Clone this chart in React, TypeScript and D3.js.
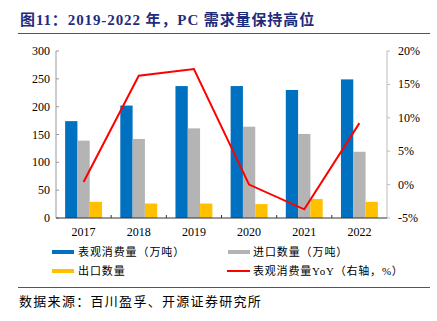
import React from "react";
import * as d3 from "d3";

const years = ["2017", "2018", "2019", "2020", "2021", "2022"];
const consumption = [174, 202, 237, 237, 230, 249];
const imports = [139, 142, 161, 164, 151, 119];
const exportsQ = [29, 26, 26, 25, 34, 29];
const yoy = [0.4, 16.3, 17.3, 0.0, -3.7, 9.2];
const leftTicks = [0, 50, 100, 150, 200, 250, 300];
const rightTicks = [-5, 0, 5, 10, 15, 20];

const W = 437, H = 321;
const L = 56, R = 387, T = 51, B = 218;
const serif = "'Liberation Serif','Times New Roman','Noto Sans CJK SC',serif";

export default function App() {
  const x = d3.scaleBand().domain(years).range([L, R]).paddingInner(0).paddingOuter(0);
  const yL = d3.scaleLinear().domain([0, 300]).range([B, T]);
  const yR = d3.scaleLinear().domain([-5, 20]).range([B, T]);
  const bw = 12.3;
  const series = [
    { vals: consumption, color: "#0070C0", off: -1.5 },
    { vals: imports, color: "#B4B4B4", off: -0.5 },
    { vals: exportsQ, color: "#FFC000", off: 0.5 },
  ];
  const cx = (y: string) => (x(y) as number) + x.bandwidth() / 2;
  const line = d3
    .line<number>()
    .x((_, i) => cx(years[i]))
    .y((d) => yR(d));

  return (
    <svg width={W} height={H} style={{ position: "absolute", left: 0, top: 0, background: "#fff" }}>
      <text x={20} y={25} fontFamily={serif} fontWeight="bold" fontSize={15} letterSpacing={0.9} fill="#1F2C7E">
        图11：2019-2022 年，PC 需求量保持高位
      </text>
      <line x1={18} x2={430} y1={33.5} y2={33.5} stroke="#555" strokeWidth={1} />

      {series.map((s, si) =>
        s.vals.map((v, i) => (
          <rect
            key={si + "-" + i}
            x={cx(years[i]) + s.off * bw}
            y={yL(v)}
            width={bw}
            height={B - yL(v)}
            fill={s.color}
          />
        ))
      )}

      {/* left axis */}
      <line x1={L} x2={L} y1={T} y2={B} stroke="#999" />
      {leftTicks.map((t) => (
        <g key={"l" + t}>
          <line x1={L} x2={L + 3} y1={yL(t)} y2={yL(t)} stroke="#999" />
          <text x={50} y={yL(t) + 4} textAnchor="end" fontFamily={serif} fontSize={12} fill="#000">
            {t}
          </text>
        </g>
      ))}
      {/* right axis */}
      <line x1={R} x2={R} y1={T} y2={B} stroke="#bbb" />
      {rightTicks.map((t) => (
        <g key={"r" + t}>
          <line x1={R} x2={R + 3} y1={yR(t)} y2={yR(t)} stroke="#bbb" />
          <text x={398} y={yR(t) + 4} textAnchor="start" fontFamily={serif} fontSize={12} fill="#000">
            {t}%
          </text>
        </g>
      ))}
      {/* bottom axis */}
      <line x1={L} x2={R} y1={B} y2={B} stroke="#333" />
      {years.slice(1).map((y) => (
        <line key={"xt" + y} x1={x(y)} x2={x(y)} y1={B} y2={B - 3} stroke="#333" />
      ))}
      {years.map((y) => (
        <text key={"xl" + y} x={cx(y)} y={236} textAnchor="middle" fontFamily={serif} fontSize={12} fill="#000">
          {y}
        </text>
      ))}

      <path d={line(yoy) || ""} fill="none" stroke="#FF0000" strokeWidth={2} />

      {/* legend */}
      <rect x={52} y={250} width={22} height={4} fill="#0070C0" />
      <text x={78} y={256} fontFamily={serif} fontSize={11} letterSpacing={0.9} fill="#000">表观消费量（万吨）</text>
      <rect x={228} y={250} width={22} height={4} fill="#B4B4B4" />
      <text x={253} y={256} fontFamily={serif} fontSize={11} letterSpacing={0.9} fill="#000">进口数量（万吨）</text>
      <rect x={52} y={269} width={22} height={4} fill="#FFC000" />
      <text x={78} y={275} fontFamily={serif} fontSize={11} letterSpacing={0.9} fill="#000">出口数量</text>
      <line x1={227} x2={250} y1={271} y2={271} stroke="#FF0000" strokeWidth={2} />
      <text x={253} y={275} fontFamily={serif} fontSize={11} letterSpacing={0.8} fill="#000">表观消费量YoY（右轴，%）</text>

      <line x1={18} x2={430} y1={287.5} y2={287.5} stroke="#555" strokeWidth={1} />
      <text x={19} y={306} fontFamily={serif} fontSize={13} letterSpacing={1.3} fill="#000">
        数据来源：百川盈孚、开源证券研究所
      </text>
    </svg>
  );
}
